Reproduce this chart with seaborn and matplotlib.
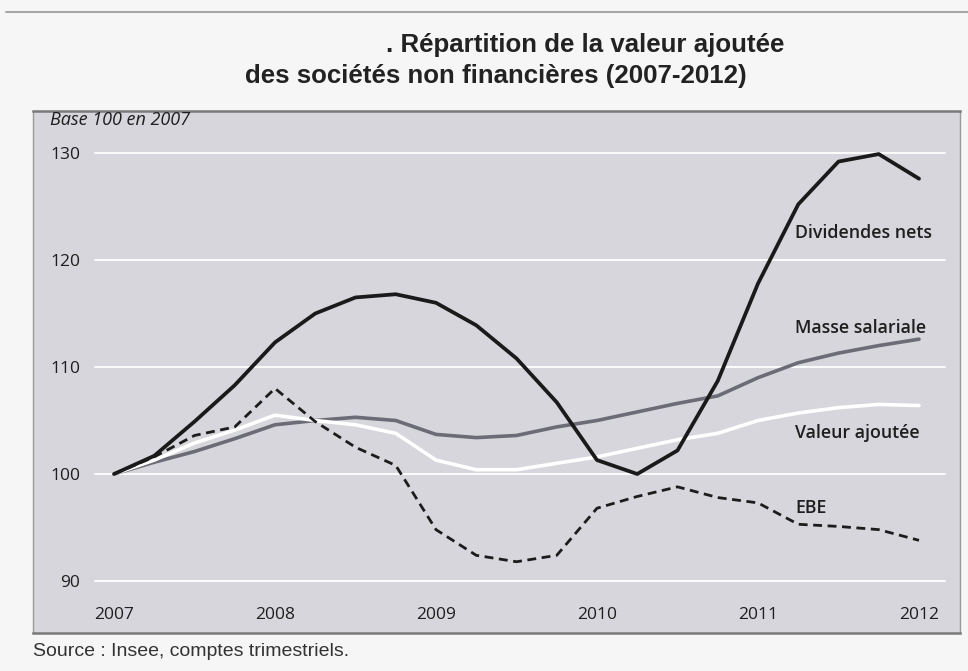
import matplotlib
matplotlib.use("Agg")
import matplotlib.pyplot as plt
from matplotlib.lines import Line2D
import seaborn as sns
import pandas as pd

# ---- data (base 100 en 2007, quarterly) ----
quarters = [2007.00, 2007.25, 2007.50, 2007.75,
            2008.00, 2008.25, 2008.50, 2008.75,
            2009.00, 2009.25, 2009.50, 2009.75,
            2010.00, 2010.25, 2010.50, 2010.75,
            2011.00, 2011.25, 2011.50, 2011.75,
            2012.00]
dividendes = [100.0, 101.7, 104.9, 108.3, 112.3, 115.0, 116.5, 116.8, 116.0,
              113.9, 110.8, 106.7, 101.3, 100.0, 102.2, 108.7, 117.8, 125.2,
              129.2, 129.9, 127.6]
masse = [100.0, 101.1, 102.1, 103.3, 104.6, 105.0, 105.3, 105.0, 103.7,
         103.4, 103.6, 104.4, 105.0, 105.8, 106.6, 107.3, 109.0, 110.4,
         111.3, 112.0, 112.6]
valeur = [100.0, 101.3, 102.9, 104.1, 105.5, 105.0, 104.6, 103.8, 101.3,
          100.4, 100.4, 101.0, 101.6, 102.4, 103.2, 103.8, 105.0, 105.7,
          106.2, 106.5, 106.4]
ebe = [100.0, 101.6, 103.6, 104.4, 108.0, 104.9, 102.5, 100.8, 94.8,
       92.4, 91.8, 92.4, 96.8, 97.9, 98.8, 97.8, 97.3, 95.3,
       95.1, 94.8, 93.8]

series_names = ["Dividendes nets", "Masse salariale", "Valeur ajoutée", "EBE"]
year_ticks = [2007, 2008, 2009, 2010, 2011, 2012]
y_ticks = [90, 100, 110, 120, 130]

title_1 = ". Répartition de la valeur ajoutée"
title_2 = "des sociétés non financières (2007-2012)"
base_note = "Base 100 en 2007"
source = "Source : Insee, comptes trimestriels."

df = pd.DataFrame({"trimestre": quarters, "Dividendes nets": dividendes,
                   "Masse salariale": masse, "Valeur ajoutée": valeur,
                   "EBE": ebe})

sns.set_theme(style="white")
plt.rcParams["font.family"] = ["Open Sans", "DejaVu Sans"]

W, H = 968, 671
fig = plt.figure(figsize=(W / 100, H / 100), dpi=100)
fig.patch.set_facecolor("#f6f6f6")

# plot box in pixels
L, R, T, B = 33, 960, 111, 633
ax = fig.add_axes([L / W, 1 - B / H, (R - L) / W, (B - T) / H])
ax.set_facecolor("#d6d6dc")

# axis scale so that 2007 -> x=114, 161 px/year ; 100 -> y=474, 10.7 px/unit
ax.set_xlim(2007 - (114 - L) / 161, 2007 + (R - 114) / 161)
ax.set_ylim(100 - (B - 474) / 10.7, 100 + (474 - T) / 10.7)

# white gridlines (not full width)
for yv in y_ticks:
    ax.axhline(yv, xmin=(95 - L) / (R - L), xmax=(945 - L) / (R - L),
               color="white", lw=1.3, zorder=1)

styles = {
    "Masse salariale": dict(color="#6c6c76", lw=2.6),
    "Valeur ajoutée": dict(color="white", lw=2.6),
    "EBE": dict(color="#1c1c1c", lw=2.0, linestyle=(0, (3.2, 2.0))),
    "Dividendes nets": dict(color="#1a1a1a", lw=2.7),
}
for name in ["Masse salariale", "Valeur ajoutée", "EBE", "Dividendes nets"]:
    sns.lineplot(data=df, x="trimestre", y=name, ax=ax, zorder=3,
                 **styles[name])

ax.set_xlabel("")
ax.set_ylabel("")
ax.set_xticks(year_ticks)
ax.set_xticklabels([str(y) for y in year_ticks])
ax.set_yticks(y_ticks)
ax.set_yticklabels([str(y) for y in y_ticks])
ax.tick_params(axis="x", length=0, pad=-18.5, labelsize=12.5, colors="#1e1e1e")
ax.tick_params(axis="y", length=0, pad=-34, labelsize=12.5, colors="#1e1e1e")

for s in ["top", "bottom"]:
    ax.spines[s].set_color("#7a7a7a")
    ax.spines[s].set_linewidth(1.8)
for s in ["left", "right"]:
    ax.spines[s].set_color("#9a9a9a")
    ax.spines[s].set_linewidth(1.0)

# series labels
lab_x = 2007 + (795 - 114) / 161
label_y = {"Dividendes nets": 100 + (474 - 233) / 10.7,
           "Masse salariale": 100 + (474 - 328) / 10.7,
           "Valeur ajoutée": 100 + (474 - 433) / 10.7,
           "EBE": 100 + (474 - 508) / 10.7}
for name in series_names:
    ax.text(lab_x, label_y[name], name, ha="left", va="center",
            fontsize=12.8, fontweight="semibold", color="#1e1e1e", zorder=4)

ax.text((50 - L) / (R - L), 1 - (120 - T) / (B - T), base_note,
        transform=ax.transAxes, ha="left", va="center", fontsize=13,
        style="italic", color="#1e1e1e")

# titles
tfont = ["Liberation Sans", "DejaVu Sans"]
fig.text(386 / W, 1 - 45 / H, title_1, ha="left", va="center", fontsize=18.6,
         fontweight="bold", family=tfont, color="#222222")
fig.text(245 / W, 1 - 76 / H, title_2, ha="left", va="center", fontsize=18.6,
         fontweight="bold", family=tfont, color="#222222")

# source
fig.text(33 / W, 1 - 652 / H, source, ha="left", va="center", fontsize=14,
         family=tfont, color="#333333")

# thin top rule
fig.add_artist(Line2D([6 / W, 1], [1 - 12 / H, 1 - 12 / H], color="#a8a8a8",
                      lw=1.5))

fig.savefig("out.png", dpi=100, facecolor=fig.get_facecolor())
